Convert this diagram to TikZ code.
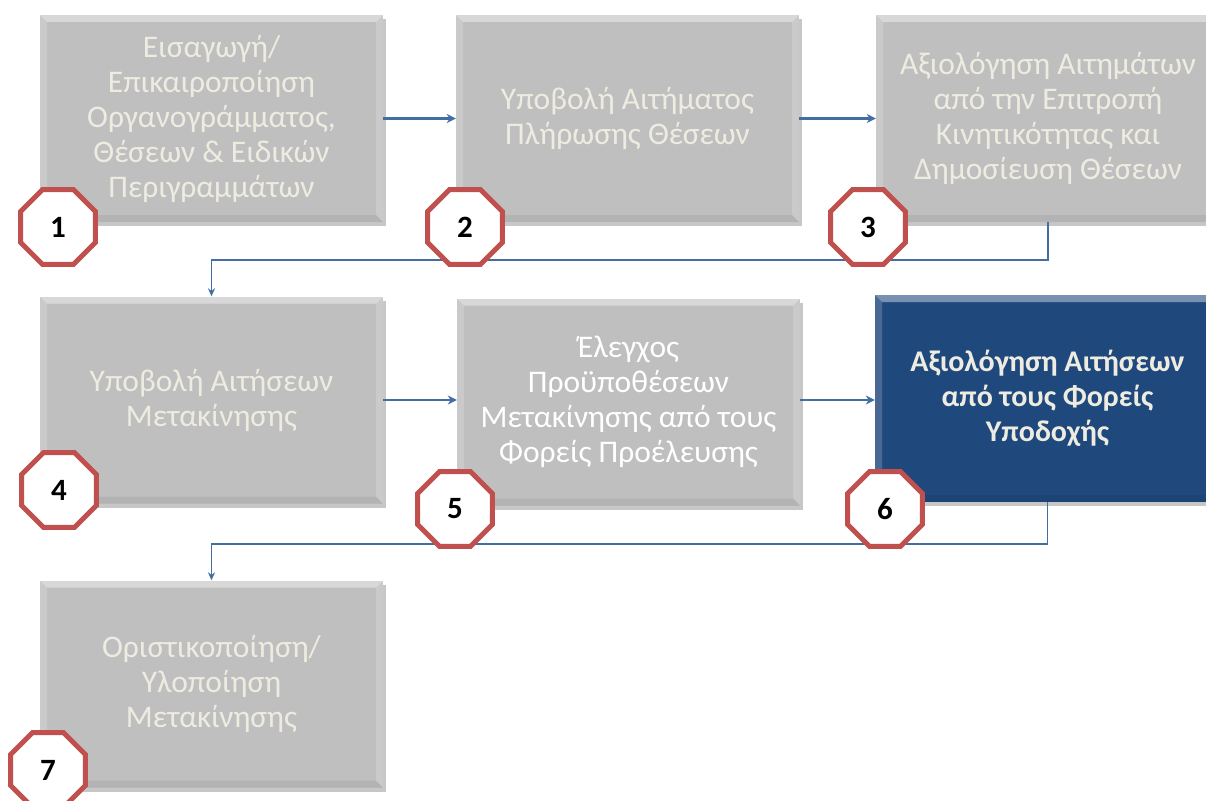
\documentclass[tikz,border=0pt]{standalone}
\usepackage{fontspec}
\setmainfont{Carlito}
\usetikzlibrary{shapes.geometric,shadows,arrows.meta}
\definecolor{boxgray}{HTML}{BFBFBF}
\definecolor{txtcream}{HTML}{EEECE1}
\definecolor{darkblue}{HTML}{1F497D}
\definecolor{arrowblue}{HTML}{4F81BD}
\definecolor{octred}{HTML}{C0504D}
\tikzset{
  bevel/.style={path picture={
    \fill[white,opacity=0.4] (path picture bounding box.north west) -- (path picture bounding box.north east) -- ([xshift=-7pt,yshift=-7pt]path picture bounding box.north east) -- ([xshift=7pt,yshift=-7pt]path picture bounding box.north west) -- cycle;
    \fill[white,opacity=0.18] (path picture bounding box.north west) -- ([xshift=7pt,yshift=-7pt]path picture bounding box.north west) -- ([xshift=7pt,yshift=7pt]path picture bounding box.south west) -- (path picture bounding box.south west) -- cycle;
    \fill[white,opacity=0.18] (path picture bounding box.north east) -- ([xshift=-7pt,yshift=-7pt]path picture bounding box.north east) -- ([xshift=-7pt,yshift=7pt]path picture bounding box.south east) -- (path picture bounding box.south east) -- cycle;
    \fill[black,opacity=0.06] (path picture bounding box.south west) -- ([xshift=7pt,yshift=7pt]path picture bounding box.south west) -- ([xshift=-7pt,yshift=7pt]path picture bounding box.south east) -- (path picture bounding box.south east) -- cycle;
  }},
  stepbox/.style={rectangle, fill=boxgray, minimum width=343pt, minimum height=207pt,
    inner sep=0pt, align=center, text=txtcream, bevel,
    font=\fontsize{31.5}{35}\selectfont,
    drop shadow={shadow xshift=3pt, shadow yshift=-4pt, opacity=0.22, fill=black}},
  activebox/.style={stepbox, fill=darkblue, font=\bfseries\fontsize{30}{35}\selectfont},
  octo/.style={regular polygon, regular polygon sides=8, minimum size=81pt, inner sep=0pt,
    draw=octred, line width=5pt, fill=white, font=\bfseries\fontsize{31}{33}\selectfont},
  arr/.style={draw=arrowblue!85!black, line width=2.6pt, -{Stealth[length=9pt,width=9pt]}},
  elb/.style={draw=arrowblue!85!black, line width=1.8pt, -{Stealth[length=8pt,width=7pt]}},
}
\begin{document}
\begin{tikzpicture}[x=1pt,y=-1pt]
\useasboundingbox (0,0) rectangle (1206,800);
\node[stepbox] (b1) at (211.5,118.5) {Εισαγωγή/\\Επικαιροποίηση\\Οργανογράμματος,\\Θέσεων \& Ειδικών\\Περιγραμμάτων};
\node[stepbox] (b2) at (627.5,118.5) {Υποβολή Αιτήματος\\Πλήρωσης Θέσεων};
\node[stepbox, minimum width=344pt] (b3) at (1048,118.5) {Αξιολόγηση Αιτημάτων\\από την Επιτροπή\\Κινητικότητας και\\Δημοσίευση Θέσεων};
\node[stepbox] (b4) at (211.5,400) {Υποβολή Αιτήσεων\\Μετακίνησης};
\node[stepbox, text=white] (b5) at (628.5,402) {Έλεγχος\\Προϋποθέσεων\\Μετακίνησης από τους\\Φορείς Προέλευσης};
\node[activebox, minimum width=345pt] (b6) at (1047.5,398.5) {Αξιολόγηση Αιτήσεων\\από τους Φορείς\\Υποδοχής};
\node[stepbox] (b7) at (211.5,684) {Οριστικοποίηση/\\Υλοποίηση\\Μετακίνησης};

\draw[arr] (b1.east) -- (b2.west);
\draw[arr] (b2.east) -- (b3.west);
\draw[elb] (b3.south) -- ++(0,38) -| (b4.north);
\draw[arr] (b4.east) -- (b5.west |- b4.east);
\draw[arr] (b5.east |- b4.east) -- (b6.west |- b4.east);
\draw[elb] (b6.south) -- ++(0,42) -| (b7.north);

\node[octo] (n1) at (58,227) {1};
\node[octo] (n2) at (465,227) {2};
\node[octo] (n3) at (868,227) {3};
\node[octo] (n4) at (59,490) {4};
\node[octo] (n5) at (455,509) {5};
\node[octo] (n6) at (885,509) {6};
\node[octo] (n7) at (48,770) {7};
\end{tikzpicture}
\end{document}
